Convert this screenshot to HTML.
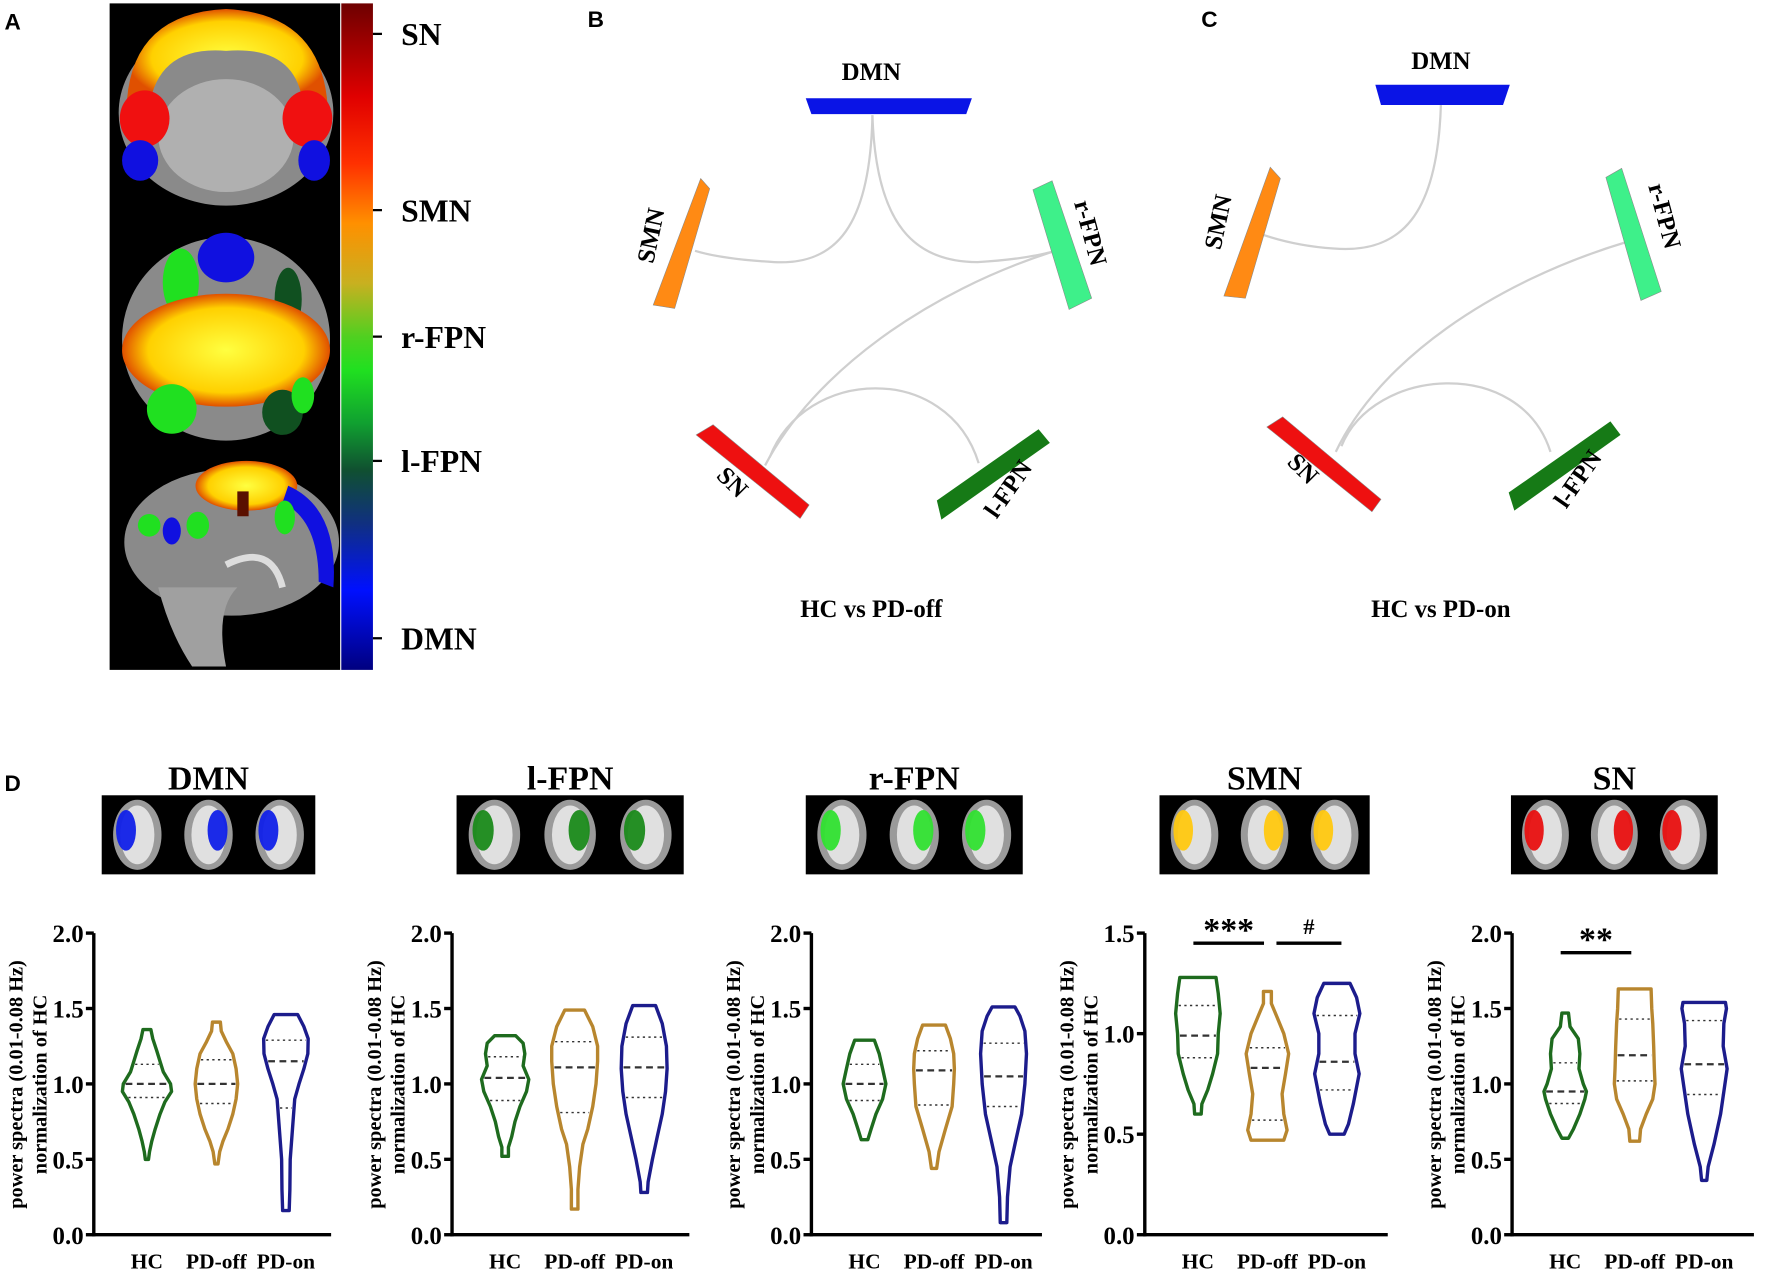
<!DOCTYPE html>
<html><head><meta charset="utf-8"><style>
html,body{margin:0;padding:0;background:#fff}
svg{display:block}
text{font-family:"Liberation Serif",serif;font-weight:bold}
text.sans{font-family:"Liberation Sans",sans-serif}
</style></head><body>
<svg id="fig" width="1772" height="1272" viewBox="0 0 1568 1126" preserveAspectRatio="none" xmlns="http://www.w3.org/2000/svg">
<defs>
<linearGradient id="cbar" x1="0" y1="0" x2="0" y2="1">
<stop offset="0" stop-color="#6e0000"/><stop offset="0.14" stop-color="#e00000"/><stop offset="0.24" stop-color="#ff3000"/>
<stop offset="0.33" stop-color="#ff9000"/><stop offset="0.42" stop-color="#c8b020"/><stop offset="0.5" stop-color="#50d020"/>
<stop offset="0.55" stop-color="#20e020"/><stop offset="0.63" stop-color="#10a030"/><stop offset="0.7" stop-color="#105030"/>
<stop offset="0.78" stop-color="#103080"/><stop offset="0.88" stop-color="#0010ff"/><stop offset="1" stop-color="#000080"/>
</linearGradient>
<radialGradient id="yel" cx="0.5" cy="0.5" r="0.5"><stop offset="0" stop-color="#ffff40"/><stop offset="0.75" stop-color="#ffd000"/><stop offset="1" stop-color="#e05000"/></radialGradient>
</defs>

<!-- Panel A -->
<g>
<text class="sans" x="4" y="26" font-size="20">A</text>
<rect x="97" y="3" width="204" height="590" fill="#000"/>
<g>
<ellipse cx="200" cy="100" rx="95" ry="82" fill="#8a8a8a"/>
<ellipse cx="200" cy="120" rx="60" ry="50" fill="#b0b0b0"/>
<path d="M112,95 Q115,12 200,8 Q285,12 290,95 L268,92 Q262,40 200,45 Q140,40 132,95 Z" fill="url(#yel)"/>
<ellipse cx="128" cy="105" rx="22" ry="25" fill="#f01010"/>
<ellipse cx="272" cy="105" rx="22" ry="25" fill="#f01010"/>
<ellipse cx="124" cy="142" rx="16" ry="18" fill="#1010e0"/>
<ellipse cx="278" cy="142" rx="14" ry="18" fill="#1010e0"/>
</g>
<g>
<ellipse cx="200" cy="300" rx="92" ry="90" fill="#8a8a8a"/>
<ellipse cx="200" cy="228" rx="25" ry="22" fill="#1010e0"/>
<ellipse cx="160" cy="250" rx="16" ry="30" fill="#20e020"/>
<ellipse cx="255" cy="265" rx="12" ry="28" fill="#105020"/>
<ellipse cx="200" cy="310" rx="92" ry="50" fill="url(#yel)"/>
<ellipse cx="152" cy="362" rx="22" ry="22" fill="#20e020"/>
<ellipse cx="250" cy="365" rx="18" ry="20" fill="#105020"/>
<ellipse cx="268" cy="350" rx="10" ry="16" fill="#20e020"/>
</g>
<g>
<ellipse cx="205" cy="480" rx="95" ry="65" fill="#8a8a8a"/>
<path d="M140,520 Q150,560 170,590 L200,590 Q190,540 210,520 Z" fill="#a0a0a0"/>
<ellipse cx="218" cy="430" rx="45" ry="22" fill="url(#yel)"/>
<path d="M255,430 Q300,450 295,520 L282,515 Q282,460 250,445 Z" fill="#1010e0"/>
<ellipse cx="132" cy="465" rx="10" ry="10" fill="#20e020"/>
<ellipse cx="175" cy="465" rx="10" ry="12" fill="#20e020"/>
<ellipse cx="152" cy="470" rx="8" ry="12" fill="#1010e0"/>
<ellipse cx="252" cy="458" rx="9" ry="15" fill="#20e020"/>
<rect x="210" y="435" width="10" height="22" fill="#5a1000"/>
<path d="M200,500 Q240,480 250,520" stroke="#ddd" stroke-width="6" fill="none"/>
</g>
<rect x="302" y="3" width="28" height="590" fill="url(#cbar)"/>
<g font-size="28">
<line x1="330" y1="30" x2="338" y2="30" stroke="#000" stroke-width="2"/><text x="355" y="40">SN</text>
<line x1="330" y1="186" x2="338" y2="186" stroke="#000" stroke-width="2"/><text x="355" y="196">SMN</text>
<line x1="330" y1="298" x2="338" y2="298" stroke="#000" stroke-width="2"/><text x="355" y="308">r-FPN</text>
<line x1="330" y1="408" x2="338" y2="408" stroke="#000" stroke-width="2"/><text x="355" y="418">l-FPN</text>
<line x1="330" y1="565" x2="338" y2="565" stroke="#000" stroke-width="2"/><text x="355" y="575">DMN</text>
</g>
</g>

<!-- Panel B -->
<g>
<text class="sans" x="520" y="24" font-size="20">B</text>
<g fill="none" stroke="#cfcfcf" stroke-width="2">
<path d="M772,102 C770,200 740,235 685,232 C650,230 628,226 615,222"/>
<path d="M772,102 C775,200 810,232 865,232 C900,230 920,226 934,222"/>
<path d="M934,222 C820,258 720,330 677,412"/>
<path d="M681,405 C712,325 838,320 866,410"/>
</g>
<polygon points="713,87 860,87 855,101 718,101" fill="#0a14e6"/>
<polygon points="620,158 628,167 597,273 578,270" fill="#ff8a14" stroke="#888" stroke-width="0.5"/>
<polygon points="914,168 931,160 966,264 946,274" fill="#3ef08a" stroke="#888" stroke-width="0.5"/>
<polygon points="616,385 631,376 716,447 708,459" fill="#ee1010" stroke="#888" stroke-width="0.5"/>
<polygon points="829,443 919,380 929,392 833,460" fill="#167a16"/>
<g font-size="22">
<text x="771" y="71" text-anchor="middle">DMN</text>
<text transform="translate(583,210) rotate(-78)" text-anchor="middle">SMN</text>
<text transform="translate(958,208) rotate(75)" text-anchor="middle">r-FPN</text>
<text transform="translate(643,432) rotate(45)" text-anchor="middle">SN</text>
<text transform="translate(898,437) rotate(-55)" text-anchor="middle">l-FPN</text>
<text x="771" y="546" text-anchor="middle">HC vs PD-off</text>
</g>
</g>

<!-- Panel C -->
<g>
<text class="sans" x="1063" y="24" font-size="20">C</text>
<g fill="none" stroke="#cfcfcf" stroke-width="2">
<path d="M1275,93 C1272,190 1240,225 1180,220 C1150,218 1130,212 1118,208"/>
<path d="M1440,214 C1320,250 1220,320 1182,400"/>
<path d="M1187,395 C1215,325 1345,315 1372,400"/>
</g>
<polygon points="1217,75 1336,75 1330,93 1222,93" fill="#0a14e6"/>
<polygon points="1124,148 1133,158 1102,264 1083,262" fill="#ff8a14" stroke="#888" stroke-width="0.5"/>
<polygon points="1421,157 1435,149 1470,258 1452,266" fill="#3ef08a" stroke="#888" stroke-width="0.5"/>
<polygon points="1121,378 1135,369 1222,442 1214,453" fill="#ee1010" stroke="#888" stroke-width="0.5"/>
<polygon points="1335,436 1425,373 1434,385 1340,452" fill="#167a16"/>
<g font-size="22">
<text x="1275" y="61" text-anchor="middle">DMN</text>
<text transform="translate(1085,198) rotate(-78)" text-anchor="middle">SMN</text>
<text transform="translate(1466,193) rotate(75)" text-anchor="middle">r-FPN</text>
<text transform="translate(1148,420) rotate(45)" text-anchor="middle">SN</text>
<text transform="translate(1402,428) rotate(-55)" text-anchor="middle">l-FPN</text>
<text x="1275" y="546" text-anchor="middle">HC vs PD-on</text>
</g>
</g>

<text class="sans" x="4" y="700" font-size="20">D</text>
<g id="charts"></g>
</svg>
<script>
// ---- data ----
const categories = ["HC","PD-off","PD-on"];
const networks = ["DMN","l-FPN","r-FPN","SMN","SN"];
const yMaxes = [2.0, 2.0, 2.0, 1.5, 2.0];
const yTicks2 = ["0.0","0.5","1.0","1.5","2.0"];
const yTicks15 = ["0.0","0.5","1.0","1.5"];
// [min, q1, median, q3, max] per network per group
const statsDMN  = [[0.50,0.91,1.00,1.13,1.36],[0.47,0.87,1.00,1.16,1.41],[0.16,0.84,1.15,1.29,1.46]];
const statsLFPN = [[0.52,0.89,1.04,1.18,1.32],[0.17,0.81,1.11,1.28,1.49],[0.28,0.91,1.11,1.31,1.52]];
const statsRFPN = [[0.63,0.89,1.00,1.13,1.29],[0.44,0.86,1.09,1.22,1.39],[0.08,0.85,1.05,1.27,1.51]];
const statsSMN  = [[0.60,0.88,0.99,1.14,1.28],[0.47,0.57,0.83,0.93,1.21],[0.50,0.72,0.86,1.09,1.25]];
const statsSN   = [[0.64,0.87,0.95,1.14,1.47],[0.62,1.02,1.19,1.43,1.63],[0.36,0.93,1.13,1.42,1.54]];
// density profiles: [value, relative width]
const densDMN = [
 [[0.50,0.05],[0.55,0.08],[0.62,0.15],[0.7,0.25],[0.8,0.4],[0.88,0.55],[0.95,0.75],[1.0,0.72],[1.08,0.5],[1.15,0.4],[1.22,0.3],[1.3,0.18],[1.36,0.12]],
 [[0.47,0.05],[0.55,0.1],[0.62,0.2],[0.7,0.35],[0.8,0.5],[0.9,0.6],[1.0,0.65],[1.1,0.6],[1.2,0.5],[1.28,0.3],[1.35,0.15],[1.41,0.12]],
 [[0.16,0.1],[0.3,0.12],[0.5,0.13],[0.7,0.2],[0.9,0.27],[1.0,0.4],[1.1,0.55],[1.2,0.67],[1.3,0.68],[1.38,0.55],[1.46,0.36]]];
const densLFPN = [
 [[0.52,0.1],[0.58,0.1],[0.65,0.2],[0.75,0.3],[0.85,0.45],[0.95,0.65],[1.03,0.72],[1.12,0.55],[1.2,0.6],[1.27,0.55],[1.32,0.32]],
 [[0.17,0.1],[0.3,0.1],[0.45,0.15],[0.6,0.25],[0.7,0.4],[0.85,0.55],[1.0,0.65],[1.15,0.7],[1.25,0.7],[1.38,0.55],[1.49,0.3]],
 [[0.28,0.1],[0.35,0.12],[0.5,0.25],[0.65,0.4],[0.8,0.55],[0.95,0.65],[1.1,0.7],[1.25,0.68],[1.4,0.55],[1.52,0.35]]];
const densRFPN = [
 [[0.63,0.1],[0.7,0.2],[0.8,0.35],[0.9,0.55],[1.0,0.65],[1.1,0.55],[1.2,0.45],[1.29,0.3]],
 [[0.44,0.08],[0.55,0.15],[0.7,0.35],[0.85,0.55],[1.0,0.6],[1.1,0.62],[1.2,0.6],[1.3,0.5],[1.39,0.35]],
 [[0.08,0.1],[0.25,0.12],[0.45,0.2],[0.6,0.35],[0.8,0.55],[1.0,0.65],[1.2,0.7],[1.35,0.65],[1.45,0.5],[1.51,0.35]]];
const densSMN = [
 [[0.6,0.1],[0.65,0.12],[0.72,0.3],[0.8,0.45],[0.9,0.6],[1.0,0.62],[1.1,0.68],[1.2,0.62],[1.28,0.55]],
 [[0.47,0.5],[0.52,0.6],[0.6,0.5],[0.7,0.45],[0.8,0.55],[0.9,0.65],[1.0,0.5],[1.08,0.3],[1.15,0.12],[1.21,0.12]],
 [[0.5,0.22],[0.55,0.35],[0.65,0.5],[0.8,0.68],[0.9,0.55],[1.0,0.55],[1.1,0.7],[1.18,0.6],[1.25,0.4]]];
const densSN = [
 [[0.64,0.1],[0.7,0.25],[0.8,0.45],[0.9,0.6],[0.95,0.65],[1.0,0.55],[1.1,0.42],[1.2,0.45],[1.3,0.4],[1.38,0.15],[1.47,0.1]],
 [[0.62,0.15],[0.7,0.18],[0.8,0.35],[0.9,0.55],[1.0,0.62],[1.1,0.6],[1.25,0.58],[1.4,0.55],[1.5,0.52],[1.63,0.5]],
 [[0.36,0.08],[0.45,0.12],[0.6,0.3],[0.8,0.5],[0.95,0.6],[1.1,0.7],[1.25,0.58],[1.4,0.6],[1.5,0.68],[1.54,0.65]]];
// significance: [panelIndex, fromGroup, toGroup, value, label]
const sigSMN1 = [3,0,1,1.45,"***"];
const sigSMN2 = [3,1,2,1.45,"#"];
const sigSN1  = [4,0,1,1.87,"**"];

const allStats = [statsDMN,statsLFPN,statsRFPN,statsSMN,statsSN];
const allDens = [densDMN,densLFPN,densRFPN,densSMN,densSN];
const colors = ["#1e6b1e","#b8862e","#1c1c8c"];
const NS="http://www.w3.org/2000/svg";
const root=document.getElementById('charts');
function mk(tag,attrs,parent){const e=document.createElementNS(NS,tag);for(const k in attrs)e.setAttribute(k,attrs[k]);(parent||root).appendChild(e);return e;}

const axisXs=[83,400,718,1013,1338];
const axisEnds=[293,610,922,1228,1552];
const thumbX=[90,404,713,1026,1337];
const thumbW=[189,201,192,186,183];
const blobColors=["#1020e8","#1a8a1a","#30e030","#ffc810","#e81010"];
const Y0=1093, YT=826;

function interp(d,v){
  if(v<=d[0][0])return d[0][1];
  for(let i=1;i<d.length;i++){if(v<=d[i][0]){const t=(v-d[i-1][0])/(d[i][0]-d[i-1][0]);return d[i-1][1]+t*(d[i][1]-d[i-1][1]);}}
  return d[d.length-1][1];
}

networks.forEach((net,p)=>{
  const g=mk('g',{});
  
  
  const ax=axisXs[p], xe=axisEnds[p], ymax=yMaxes[p];
  const yS=v=>Y0-(v/ymax)*(Y0-YT);
  const xS=i=>ax+47+i*61.5;
  const cx=thumbX[p]+thumbW[p]/2;
  const t=mk('text',{x:cx,y:699,'font-size':30,'text-anchor':'middle'},g);t.textContent=net;
  
  
  const th=mk('g',{},g);
  
  
  const tx=thumbX[p], tw=thumbW[p];
  mk('rect',{x:tx,y:704,width:tw,height:70,fill:'#000'},th);
  const w3=tw/3;
  for(let k=0;k<3;k++){
    const bx=tx+w3*k+w3/2;
    mk('ellipse',{cx:bx,cy:739,rx:w3*0.34,ry:31,fill:'#9a9a9a'},th);
    mk('ellipse',{cx:bx,cy:739,rx:w3*0.24,ry:26,fill:'#e0e0e0'},th);
    mk('ellipse',{cx:bx+(k%2?8:-10),cy:735,rx:w3*0.14,ry:18,fill:blobColors[p],opacity:0.95},th);
  }
  mk('line',{x1:ax,y1:YT,x2:ax,y2:Y0+1.5,stroke:'#000','stroke-width':3},g);
  mk('line',{x1:ax-1.5,y1:Y0,x2:xe,y2:Y0,stroke:'#000','stroke-width':3},g);
  const ticks= ymax===2.0?yTicks2:yTicks15;
  ticks.forEach(lbl=>{
    const v=parseFloat(lbl), y=yS(v);
    mk('line',{x1:ax-7,y1:y,x2:ax,y2:y,stroke:'#000','stroke-width':3},g);
    const tt=mk('text',{x:ax-9,y:y+8,'font-size':22,'text-anchor':'end'},g);tt.textContent=lbl;
    
    
  });
  const yt=mk('text',{transform:`translate(${ax-63},960) rotate(-90)`,'font-size':18,'text-anchor':'middle'},g);
  yt.textContent='power spectra (0.01-0.08 Hz)';
  
  
  const yt2=mk('text',{transform:`translate(${ax-42},960) rotate(-90)`,'font-size':18,'text-anchor':'middle'},g);
  yt2.textContent='normalization of HC';
  
  
  categories.forEach((c,i)=>{
    const st=allStats[p][i], d=allDens[p][i], x=xS(i), W=29;
    const lab=mk('text',{x:x,y:1123,'font-size':19,'text-anchor':'middle'},g);lab.textContent=c;
    
    
    let r=[],l=[];
    d.forEach(pt=>{r.push([x+pt[1]*W,yS(pt[0])]);l.unshift([x-pt[1]*W,yS(pt[0])]);});
    const pts=r.concat(l).map(q=>q[0].toFixed(1)+','+q[1].toFixed(1)).join(' ');
    const vp=mk('polygon',{points:pts,fill:'none',stroke:colors[i],'stroke-width':3,'stroke-linejoin':'round'},g);
    
    
    [[st[1],'2,3',1.3],[st[2],'6,4',2],[st[3],'2,3',1.3]].forEach(q=>{
      const hw=interp(d,q[0])*W-2;
      const ln=mk('line',{x1:x-hw,y1:yS(q[0]),x2:x+hw,y2:yS(q[0]),stroke:'#333','stroke-width':q[2],'stroke-dasharray':q[1]},g);
      
      
    });
  });
});
[sigSMN1,sigSMN2,sigSN1].forEach(s=>{
  const p=s[0], ax=axisXs[p], ymax=yMaxes[p];
  const y=Y0-(s[3]/ymax)*(Y0-YT);
  const xa=ax+47+s[1]*61.5, xb=ax+47+s[2]*61.5;
  const x1=xa+(s[1]===0?-4:8), x2=xb+(s[2]===2?4:-3);
  const ln=mk('line',{x1:x1,y1:y,x2:x2,y2:y,stroke:'#000','stroke-width':3});
  
  
  const t=mk('text',{x:(x1+x2)/2,y:y-(s[4]==='#'?8:2),'font-size':s[4]==='#'?20:30,'text-anchor':'middle'});
  t.textContent=s[4];
  
  
});
</script>
</body></html>
